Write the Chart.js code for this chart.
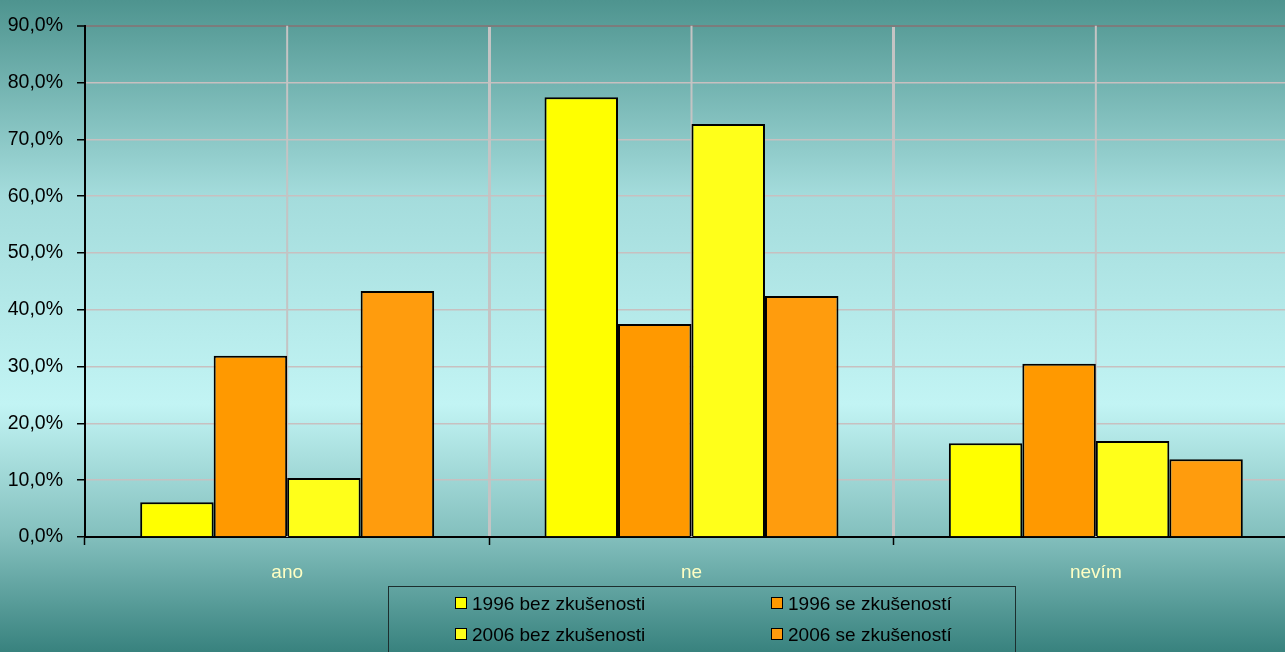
<!DOCTYPE html>
<html>
<head>
<meta charset="utf-8">
<script src="https://cdn.jsdelivr.net/npm/chart.js@4"></script>
<style>
    html, body {
        margin: 0;
        padding: 0;
        width: 1285px;
        height: 652px;
        overflow: hidden;
        background: linear-gradient(to bottom, #4e948f 0%, #a4dcdc 30%, #c2f4f4 62%, #84c0be 82%, #38827e 100%);
        font-family: "Liberation Sans", Arial, sans-serif;
    }
    #wrap {
        position: absolute;
        left: 0;
        top: 0;
        width: 1298px;
        height: 587px;
    }
    #legend {
        position: absolute;
        left: 388px;
        top: 586px;
        width: 626px;
        height: 80px;
        border: 1px solid #1c2e2e;
    }
    .item {
        position: absolute;
        font-size: 19px;
        color: #000;
        line-height: 22px;
        white-space: nowrap;
    }
    .item .box {
        display: inline-block;
        width: 10px;
        height: 10px;
        border: 1.5px solid #000;
        margin-right: 5px;
        vertical-align: 1px;
    }
</style>
</head>
<body>
<div id="wrap"><canvas id="chart"></canvas></div>
<div id="legend"></div>
<script>
// categories and series (values per category: ano, ne, nevím)
const categories = ["ano", "ne", "nevím"];
const seriesNames = ["1996 bez zkušenosti", "1996 se zkušeností", "2006 bez zkušenosti", "2006 se zkušeností"];
const seriesColors = ["#ffff00", "#ff9900", "#ffff1a", "#ff9c0d"];

const values1996bez = [6.1, 77.4, 16.5];
const values1996se = [31.9, 37.5, 30.5];
const values2006bez = [10.4, 72.7, 16.9];
const values2006se = [43.3, 42.4, 13.7];

const seriesValues = [values1996bez, values1996se, values2006bez, values2006se];

const FONT = "'Liberation Sans', Arial, sans-serif";

// thin grey lines through the middle of each category
const centerLines = {
    id: "centerLines",
    beforeDatasetsDraw(chart) {
        const x = chart.scales.x;
        const area = chart.chartArea;
        const ctx = chart.ctx;
        ctx.save();
        ctx.strokeStyle = "#c4c4c4";
        ctx.lineWidth = 2;
        categories.forEach((c, i) => {
            const px = x.getPixelForValue(i);
            ctx.beginPath();
            ctx.moveTo(px, area.top);
            ctx.lineTo(px, area.bottom);
            ctx.stroke();
        });
        ctx.restore();
    },
};

new Chart(document.getElementById("chart"), {
    type: "bar",
    data: {
        labels: categories,
        datasets: seriesNames.map((name, i) => ({
            label: name,
            data: seriesValues[i],
            backgroundColor: seriesColors[i],
            borderColor: "#000",
            borderWidth: 2,
            categoryPercentage: 0.727,
            barPercentage: 1.0,
        })),
    },
    options: {
        responsive: true,
        maintainAspectRatio: false,
        animation: false,
        layout: { padding: { top: 22, right: 0, left: 0, bottom: 0 } },
        plugins: {
            legend: { display: false },
            tooltip: { enabled: false },
        },
        scales: {
            x: {
                afterFit: (scale) => { scale.height = 50; },
                grid: {
                    offset: true,
                    color: (ctx) => (ctx.index === 0 ? "rgba(0,0,0,0)" : "#c4c4c4"),
                    lineWidth: 3,
                    tickColor: "#000",
                    tickLength: 8,
                    tickWidth: 1.5,
                },
                border: { color: "#000", width: 2 },
                ticks: {
                    color: "#ffffc4",
                    font: { family: FONT, size: 19 },
                    padding: 16,
                },
            },
            y: {
                min: 0,
                max: 90,
                afterFit: (scale) => { scale.width = 85; },
                grid: {
                    color: (ctx) => (ctx.tick && ctx.tick.value === 90 ? "#7c7c7c" : "#c8c0c0"),
                    lineWidth: (ctx) => (ctx.tick && ctx.tick.value === 90 ? 2 : 1.5),
                    tickColor: "#000",
                    tickLength: 8,
                    tickWidth: 1.5,
                },
                border: { color: "#000", width: 2 },
                ticks: {
                    stepSize: 10,
                    color: "#000",
                    font: { family: FONT, size: 19.5 },
                    padding: 14,
                    callback: (v) => v.toFixed(1).replace(".", ",") + "%",
                },
            },
        },
    },
    plugins: [centerLines],
});

// legend box under the chart, two columns
const legend = document.getElementById("legend");
const legendPos = [[66, 6], [382, 6], [66, 37], [382, 37]];
seriesNames.forEach((name, i) => {
    const el = document.createElement("div");
    el.className = "item";
    el.style.left = legendPos[i][0] + "px";
    el.style.top = legendPos[i][1] + "px";
    el.innerHTML = '<span class="box" style="background:' + seriesColors[i] + '"></span>' + name;
    legend.appendChild(el);
});
</script>
</body>
</html>
